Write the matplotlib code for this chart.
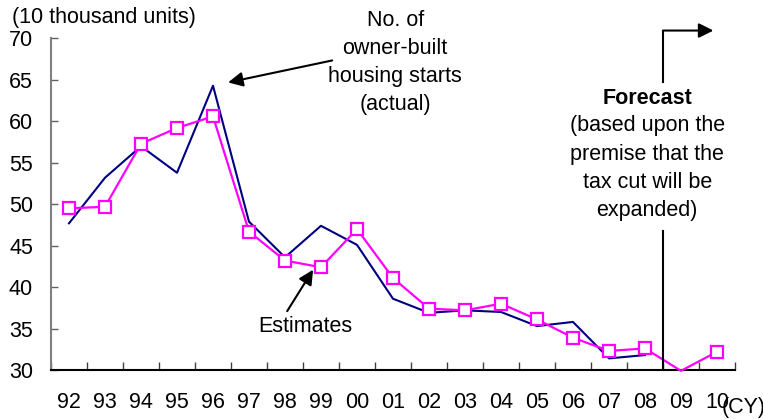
import matplotlib
matplotlib.use("Agg")
import matplotlib.pyplot as plt
import numpy as np

plt.rcParams['font.family'] = ['Liberation Sans', 'DejaVu Sans']

years = ["92", "93", "94", "95", "96", "97", "98", "99", "00", "01",
         "02", "03", "04", "05", "06", "07", "08", "09", "10"]
actual = [47.7, 53.2, 57.0, 53.8, 64.3, 47.9, 43.6, 47.4, 45.1, 38.6,
          36.9, 37.2, 37.0, 35.3, 35.8, 31.4, 31.8]
estimates = [49.5, 49.7, 57.3, 59.2, 60.6, 46.7, 43.2, 42.4, 47.0, 41.1,
             37.4, 37.2, 38.0, 36.1, 33.9, 32.3, 32.6, 29.9, 32.2]

FS = 15.5
LS = 1.45
fig = plt.figure(figsize=(7.63, 4.19), dpi=100)
ax = fig.add_axes([51 / 763, 1 - 370 / 419, 684 / 763, (370 - 38.5) / 419])

x_act = np.arange(len(actual))
x_est = np.arange(len(estimates))
ax.plot(x_act, actual, color='#000080', lw=1.5, zorder=3)
# the 2009 point sits on the axis floor, so no marker is drawn there
shown = [i for i in x_est if estimates[i] >= 30.5]
ax.plot(x_est, estimates, color='#FF00FF', lw=1.6, marker='s', ms=8.5,
        mfc='white', mec='#FF00FF', mew=1.6, markevery=shown, zorder=4,
        clip_on=False)

ax.set_xlim(-0.5, len(years) - 0.5)
ax.set_ylim(30, 70)
ax.set_yticks(np.arange(30, 71, 5))
ax.set_xticks(np.arange(len(years)))
ax.set_xticklabels(years)
ax.set_xticks(np.arange(-0.5, len(years), 1), minor=True)

for s in ('top', 'right'):
    ax.spines[s].set_visible(False)
ax.spines['left'].set_color('#808080')
ax.spines['left'].set_linewidth(1.5)
ax.spines['bottom'].set_color('black')
ax.spines['bottom'].set_linewidth(1.5)

ax.tick_params(axis='y', direction='in', length=5, width=1, color='#606060',
               labelsize=FS, pad=13)
ax.tick_params(axis='x', which='major', length=0, labelsize=FS, pad=16)
ax.tick_params(axis='x', which='minor', direction='in', length=6, width=1,
               color='#404040')

fig.text(12 / 763, 1 - 18 / 419, "(10 thousand units)", fontsize=FS,
         ha='left', va='center')
fig.text(722 / 763, 1 - 407 / 419, "(CY)", fontsize=FS, ha='left',
         va='center')

arrow = dict(arrowstyle='-|>', mutation_scale=22, lw=1.5, color='black',
             shrinkA=0, shrinkB=0)

# actual starts label
ax.text(9.06, 67.1, "No. of\nowner-built\nhousing starts\n(actual)",
        fontsize=FS, ha='center', va='center', linespacing=LS, clip_on=False)
ax.annotate('', xy=(4.42, 64.7), xytext=(7.31, 67.35), arrowprops=arrow,
            annotation_clip=False)

# estimates label
ax.text(6.56, 35.3, "Estimates", fontsize=FS, ha='center', va='center')
ax.annotate('', xy=(6.78, 42.1), xytext=(6.06, 37.1), arrowprops=arrow)

# forecast boundary
ax.plot([16.5, 16.5], [30, 46.75], color='black', lw=1.5, zorder=5)
ax.plot([16.5, 16.5], [64.7, 70.96], color='black', lw=1.5, clip_on=False)
ax.annotate('', xy=(17.9, 70.96), xytext=(16.5, 70.96), arrowprops=arrow,
            annotation_clip=False)
ax.text(16.06, 62.77, "Forecast", fontsize=FS, fontweight='bold',
        ha='center', va='center')
ax.text(16.06, 54.34,
        "(based upon the\npremise that the\ntax cut will be\nexpanded)",
        fontsize=FS, ha='center', va='center', linespacing=LS)

fig.savefig("out.png", dpi=100)
